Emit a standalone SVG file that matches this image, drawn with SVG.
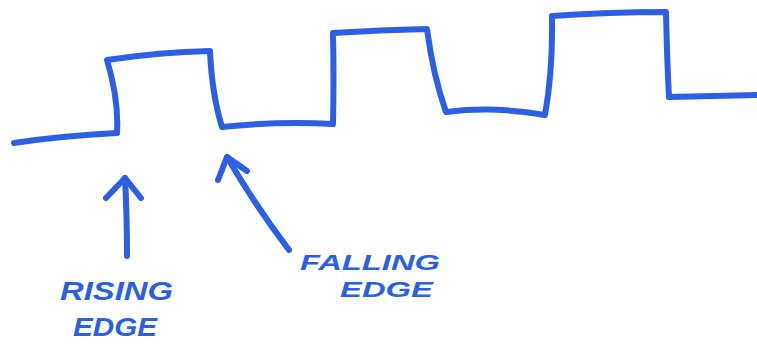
<svg xmlns="http://www.w3.org/2000/svg" width="757" height="348" viewBox="0 0 757 348">
<style>
.ink{fill:none;stroke:#2c5fe3;stroke-width:6;stroke-linecap:round;stroke-linejoin:round}
.lbl{font-family:"Liberation Sans",Arial,sans-serif;font-weight:bold;font-style:italic;fill:#2c5fe3;font-size:26px}
.sm{font-size:22px}
</style>
<rect width="757" height="348" fill="#ffffff"/>
<g id="waveform">
<path class="ink" d="M14,143 Q60,136 117,133 Q119,100 107,60 Q160,52 210,51 Q212,95 222,127 Q280,121 333,124 Q334,80 333,33 Q380,30 427,29 Q433,75 446,112 Q495,106 545,115 Q553,70 552,16 Q610,12 666,12 Q667,60 669,97 L757,95"/>
</g>
<g id="connectors">
<g id="arrow-rising">
<path class="ink" d="M127,256 Q127,215 125,178"/>
<path class="ink" d="M106,198 L125,178 L141,198"/>
</g>
<g id="arrow-falling">
<path class="ink" d="M289,250 Q255,205 227,157"/>
<path class="ink" d="M218,180 L227,157 L247,171"/>
</g>
</g>
<g id="label-rising">
<text class="lbl" x="60" y="300" textLength="113" lengthAdjust="spacingAndGlyphs">RISING</text>
<text class="lbl" x="73" y="336" textLength="84" lengthAdjust="spacingAndGlyphs">EDGE</text>
</g>
<g id="label-falling">
<text class="lbl sm" x="300" y="270" textLength="140" lengthAdjust="spacingAndGlyphs">FALLING</text>
<text class="lbl sm" x="340" y="297" textLength="93" lengthAdjust="spacingAndGlyphs">EDGE</text>
</g>
</svg>
